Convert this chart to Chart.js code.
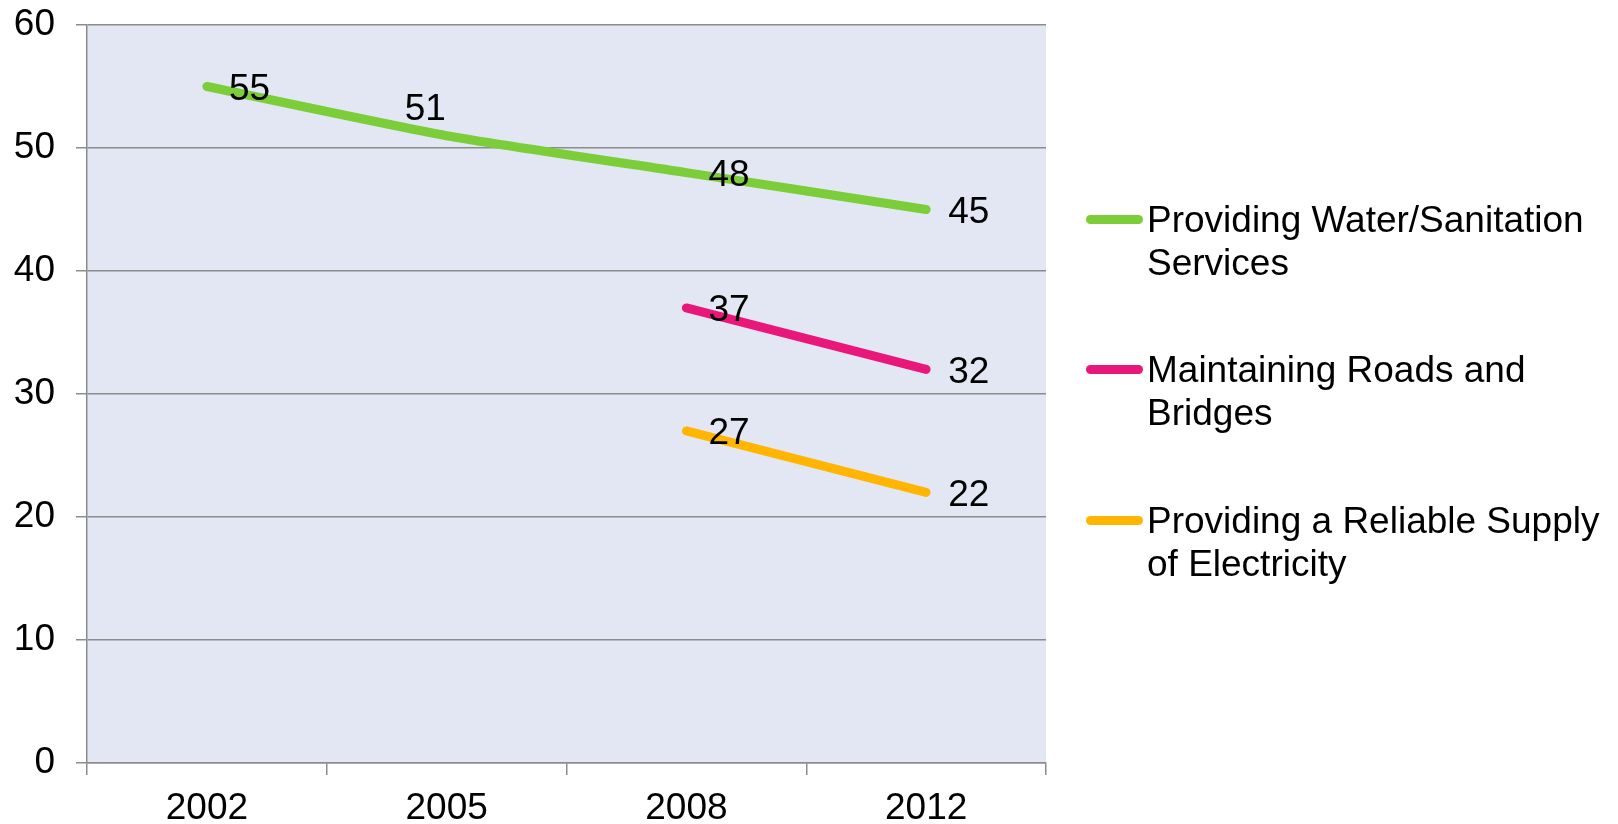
<!DOCTYPE html>
<html>
<head>
<meta charset="utf-8">
<script src="https://cdn.jsdelivr.net/npm/chart.js@4"></script>
<style>
  body { margin: 0; background: #fff; }
  #wrap { position: relative; width: 1618px; height: 824px; }
  .leg { position: absolute; left: 1086px; font: 37px "Liberation Sans", Arial, sans-serif; color: #000; }
  .leg .sw { position: absolute; left: 0; top: 17px; width: 57px; height: 9px; border-radius: 4.5px; }
  .leg .tx { position: absolute; left: 61px; top: 0; line-height: 43px; white-space: nowrap; }
</style>
</head>
<body>
<div id="wrap">
  <canvas id="chart" width="1618" height="824"></canvas>
  <div id="legend"></div>
</div>
<script>
// data
const years = ["2002", "2005", "2008", "2012"];
const water = [55, 51, 48, 45];
const roads = [null, null, 37, 32];
const electricity = [null, null, 27, 22];
const seriesNames = [
  ["Providing Water/Sanitation", "Services"],
  ["Maintaining Roads and", "Bridges"],
  ["Providing a Reliable Supply", "of Electricity"],
];

const colors = ["#7ccd3a", "#e9177a", "#ffb502"];
// label offsets from each point [dx, dy] (left aligned text)
const labelOffsets = [
  [[22, 3], [-42, -26], [22, 3], [22, 3]],
  [null, null, [22, 3], [22, 3]],
  [null, null, [22, 3], [22, 3]],
];

const font = { family: "'Liberation Sans', Arial, sans-serif", size: 37 };

const plotBg = {
  id: "plotBg",
  beforeDraw(chart) {
    const { ctx, chartArea: a } = chart;
    ctx.save();
    ctx.fillStyle = "#e3e7f4";
    ctx.fillRect(a.left, a.top, a.right - a.left, a.bottom - a.top);
    ctx.restore();
  },
};

const valueLabels = {
  id: "valueLabels",
  afterDatasetsDraw(chart) {
    const ctx = chart.ctx;
    ctx.save();
    ctx.font = font.size + "px " + font.family;
    ctx.fillStyle = "#000";
    ctx.textAlign = "left";
    ctx.textBaseline = "middle";
    chart.data.datasets.forEach((ds, di) => {
      const meta = chart.getDatasetMeta(di);
      ds.data.forEach((v, i) => {
        if (v === null) return;
        const p = meta.data[i];
        const off = labelOffsets[di][i];
        ctx.fillText(String(v), p.x + off[0], p.y + off[1]);
      });
    });
    ctx.restore();
  },
};

const seriesData = [water, roads, electricity];

new Chart(document.getElementById("chart"), {
  type: "line",
  data: {
    labels: years,
    datasets: seriesData.map((d, i) => ({
      label: seriesNames[i].join(" "),
      data: d,
      borderColor: colors[i],
      backgroundColor: colors[i],
      borderWidth: 9,
      borderCapStyle: "round",
      borderJoinStyle: "round",
      pointRadius: 0,
      tension: i === 0 ? 0.2 : 0,
    })),
  },
  options: {
    responsive: false,
    animation: false,
    layout: { padding: { top: 25, right: 572, left: 0, bottom: 0 } },
    plugins: { legend: { display: false }, tooltip: { enabled: false } },
    scales: {
      x: {
        offset: true,
        grid: { offset: true, drawOnChartArea: false, color: "#8c8c8c", lineWidth: 1.5, tickLength: 12 },
        border: { color: "#8c8c8c", width: 1.5 },
        ticks: { color: "#000", font: font, padding: 12, maxRotation: 0 },
        afterFit(s) { s.height = 61; },
      },
      y: {
        min: 0,
        max: 60,
        ticks: { stepSize: 10, color: "#000", font: font, padding: 21 },
        grid: { color: "#8c8c8c", lineWidth: 1.5, tickLength: 11 },
        border: { color: "#8c8c8c", width: 1.5 },
        afterFit(s) { s.width = 87; s.paddingTop = 0; s.paddingBottom = 0; },
      },
    },
  },
  plugins: [plotBg, valueLabels],
});

// legend
const legTops = [198, 348, 499];
const leg = document.getElementById("legend");
seriesNames.forEach((lines, i) => {
  const item = document.createElement("div");
  item.className = "leg";
  item.style.top = legTops[i] + "px";
  item.innerHTML = '<div class="sw" style="background:' + colors[i] + '"></div><div class="tx">' + lines.join("<br>") + "</div>";
  leg.appendChild(item);
});
</script>
</body>
</html>
